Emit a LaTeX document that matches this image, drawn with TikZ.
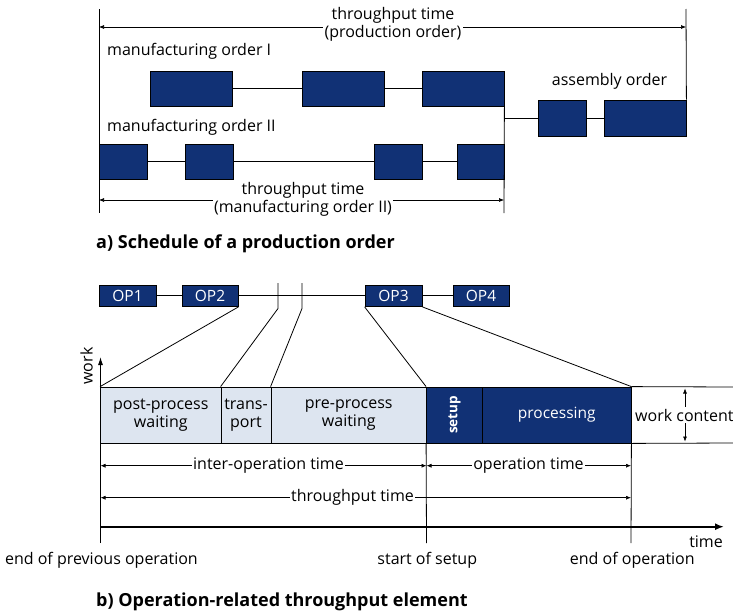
\documentclass[tikz,border=0pt]{standalone}
\usepackage{fontspec}
\setmainfont{Open Sans}
\usetikzlibrary{arrows.meta}
\definecolor{navy}{RGB}{17,49,117}
\definecolor{paleband}{RGB}{221,229,240}

\begin{document}
\begin{tikzpicture}[x=1pt,y=-1pt,
  every node/.style={font=\fontsize{16}{18}\selectfont, inner sep=0pt},
  blk/.style={draw=black, line width=0.8pt, fill=navy, minimum height=35pt},
  opbox/.style={draw=black, line width=0.8pt, fill=navy, text=white,
    minimum height=21.5pt, font=\fontsize{15.5}{18}\selectfont},
  seg/.style={draw=black, line width=0.8pt, fill=paleband, minimum height=56pt, align=center},
  darkseg/.style={seg, fill=navy, text=white},
  link/.style={line width=0.8pt},
  dim/.style={line width=0.6pt, {Latex[length=5pt,width=4pt]}-{Latex[length=5pt,width=4pt]}},
  lbl/.style={fill=white, inner sep=1.5pt, align=center},
  heading/.style={font=\fontsize{18}{21}\selectfont\bfseries, anchor=west},
]
\useasboundingbox (0,0) rectangle (733,613);
\fill[white] (0,0) rectangle (733,613);

% ---------- a) schedule of a production order ----------
% manufacturing order I
\node[blk, minimum width=82pt] (m1a) at (191.5,88.5) {};
\node[blk, minimum width=82pt] (m1b) at (343,88.5) {};
\node[blk, minimum width=82pt] (m1c) at (463,88.5) {};
% manufacturing order II
\node[blk, minimum width=48.5pt] (m2a) at (123.25,161.5) {};
\node[blk, minimum width=48pt] (m2b) at (209,161.5) {};
\node[blk, minimum width=48pt] (m2c) at (398,161.5) {};
\node[blk, minimum width=47pt] (m2d) at (480.5,161.5) {};
% assembly order
\node[blk, minimum width=48pt, minimum height=36pt] (as1) at (562,118) {};
\node[blk, minimum width=82pt, minimum height=36pt] (as2) at (645,118) {};

\draw[link] (m1a) -- (m1b);
\draw[link] (m1b) -- (m1c);
\draw[link] (m2a) -- (m2b);
\draw[link] (m2b) -- (m2c);
\draw[link] (m2c) -- (m2d);
\draw[link] (as1) -- (as2);

% order boundaries
\coordinate (leftTop) at (99,9);
\coordinate (leftBot) at (99,213);
\coordinate (rightTop) at (686,9);
\coordinate (joinBot) at (504,213);
\coordinate (joinMid) at (504,118);
\draw[link] (leftTop) -- (leftBot);
\draw[link] (rightTop) -- (as2.north east);
\draw[link] (m1c.south east) -- (joinBot);
\draw[link] (joinMid) -- (as1);

% throughput time of the production order
\coordinate (poL) at (99,27);
\coordinate (poR) at (686,27);
\draw[dim] (poL) -- (poR);
\node[lbl] (poTxt) at (393,24.5) {throughput time\\(production order)};

% throughput time of manufacturing order II
\coordinate (moL) at (99,200);
\coordinate (moR) at (504,200);
\draw[dim] (moL) -- (moR);
\node[lbl] (moTxt) at (303,199) {throughput time\\(manufacturing order II)};

\node[anchor=west] (moI) at (107,51) {manufacturing order I};
\node[anchor=west] (moII) at (107,127) {manufacturing order II};
\node (asmTxt) at (609.5,81.5) {assembly order};

\node[heading] (headA) at (96,244) {a) Schedule of a production order};

% ---------- b) operation-related throughput element ----------
\node[opbox, minimum width=57pt] (op1) at (127.5,295.75) {OP1};
\node[opbox, minimum width=56pt] (op2) at (210,295.75) {OP2};
\node[opbox, minimum width=57pt] (op3) at (393.5,295.75) {OP3};
\node[opbox, minimum width=56pt] (op4) at (481,295.75) {OP4};
\draw[link] (op1) -- (op2);
\draw[link] (op2) -- (op3);
\draw[link] (op3) -- (op4);

% throughput element band
\node[seg, minimum width=120.5pt] (post) at (160.75,415) {post-process\\waiting};
\node[seg, minimum width=50pt] (trans) at (246,415) {trans-\\port};
\node[seg, minimum width=155.5pt] (pre) at (348.75,415) {pre-process\\waiting};
\node[darkseg, minimum width=56pt] (setup) at (454.5,415) {};
\node[font=\fontsize{13.5}{16}\selectfont\bfseries, text=white, rotate=90] (setupTxt) at (setup) {setup};
\node[darkseg, minimum width=148.5pt, font=\fontsize{15.5}{18}\selectfont] (proc) at (556.75,415) {processing};

\coordinate (bandTopR) at (733,387);
\coordinate (bandBotR) at (733,443);
\draw[link] (proc.north east) -- (bandTopR);
\draw[link] (proc.south east) -- (bandBotR);

% zoom lines from the operation row into the band
\coordinate (tk1Top) at (278,283);
\coordinate (tk1Bot) at (278,308.5);
\coordinate (tk2Top) at (302,283);
\coordinate (tk2Bot) at (302,308.5);
\draw[link] (op2.south east) -- (post.north west);
\draw[link] (tk1Top) -- (tk1Bot) -- (trans.north west);
\draw[link] (tk2Top) -- (tk2Bot) -- (pre.north west);
\draw[link] (op3.south west) -- (setup.north west);
\draw[link] (op3.south east) -- (proc.north east);

% event lines
\coordinate (evSetup) at (426.5,543);
\coordinate (evEnd) at (631,543);
\coordinate (axisBot) at (100.5,543);
\coordinate (axisTop) at (100.5,357);
\draw[link] (setup.south west) -- (evSetup);
\draw[link] (proc.south east) -- (evEnd);
\draw[line width=1pt, -{Latex[length=8pt,width=5pt]}] (axisBot) -- (axisTop);
\node[rotate=90] (workTxt) at (86.5,366) {work};

% time axis
\coordinate (timeL) at (100.5,526.7);
\coordinate (timeR) at (724,526.7);
\draw[line width=2.2pt, -{Latex[length=9pt,width=7pt]}] (timeL) -- (timeR);
\node[anchor=east] (timeTxt) at (723,541.5) {time};

% work content
\coordinate (wcTop) at (685,388.5);
\coordinate (wcBot) at (685,441.5);
\draw[dim] (wcTop) -- (wcBot);
\node[lbl, anchor=west] (wcTxt) at (633.5,415) {work content};

% time spans
\coordinate (ioL) at (100.5,465.7);
\coordinate (ioR) at (426.5,465.7);
\coordinate (opL) at (426.5,465.7);
\coordinate (opR) at (631,465.7);
\coordinate (ttL) at (100.5,497.7);
\coordinate (ttR) at (631,497.7);
\draw[dim] (ioL) -- (ioR);
\draw[dim] (opL) -- (opR);
\draw[dim] (ttL) -- (ttR);
\node[lbl] (ioTxt) at (268.5,465.7) {inter-operation time};
\node[lbl] (opTxt) at (528.5,465.7) {operation time};
\node[lbl] (ttTxt) at (352.5,497.7) {throughput time};

% events
\node (evPrevTxt) at (101.4,560) {end of previous operation};
\node (evSetupTxt) at (427.3,560) {start of setup};
\node (evEndTxt) at (632.3,560) {end of operation};

\node[heading] (headB) at (96,602) {b) Operation-related throughput element};
\end{tikzpicture}
\end{document}
